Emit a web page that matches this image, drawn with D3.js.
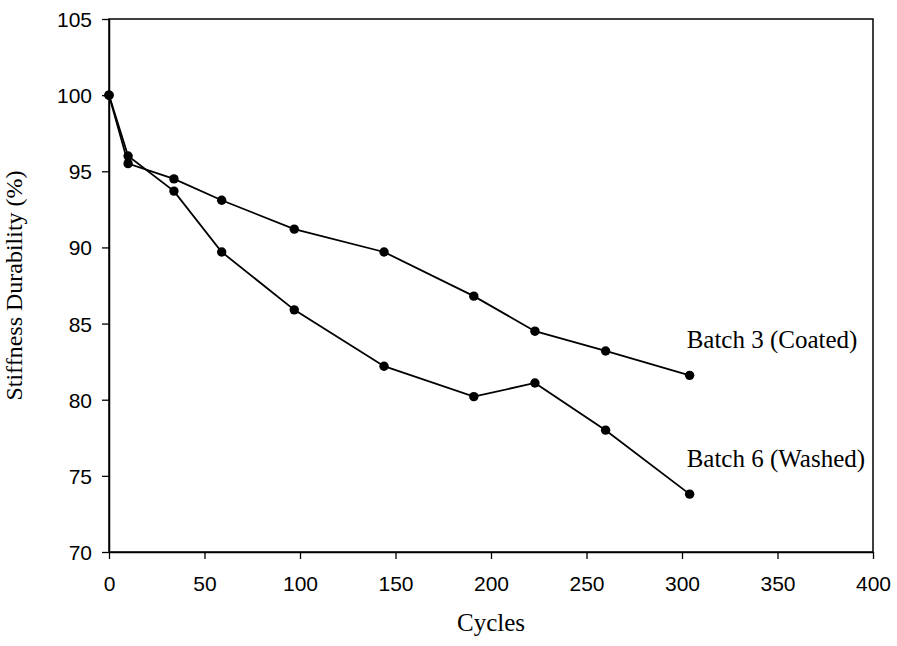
<!DOCTYPE html>
<html>
<head>
<meta charset="utf-8">
<script src="https://cdn.jsdelivr.net/npm/d3@7"></script>
<style>
  body { margin: 0; background: #fff; }
  svg { display: block; }
</style>
</head>
<body>
<svg id="chart" width="897" height="646"></svg>
<script>
// data
const cycles = [0, 10, 34, 59, 97, 144, 191, 223, 260, 304];
const coated = [100, 95.5, 94.5, 93.1, 91.2, 89.7, 86.8, 84.5, 83.2, 81.6];
const washed = [100, 96.0, 93.7, 89.7, 85.9, 82.2, 80.2, 81.1, 78.0, 73.8];
const seriesNames = ['Batch 3 (Coated)', 'Batch 6 (Washed)'];
const xTicks = [0, 50, 100, 150, 200, 250, 300, 350, 400];
const yTicks = [70, 75, 80, 85, 90, 95, 100, 105];

const plotLeft = 109, plotRight = 873, plotTop = 19, plotBottom = 552;

const svg = d3.select('#chart');

const x = d3.scaleLinear().domain([0, 400]).range([plotLeft, plotRight]);
const y = d3.scaleLinear().domain([70, 105]).range([plotBottom, plotTop]);

// frame
svg.append('rect')
  .attr('x', plotLeft)
  .attr('y', plotTop)
  .attr('width', plotRight - plotLeft)
  .attr('height', plotBottom - plotTop)
  .attr('fill', 'none')
  .attr('stroke', '#000')
  .attr('stroke-width', 1.5);

// x axis
const xAxis = svg.append('g')
  .attr('transform', `translate(0,${plotBottom})`)
  .call(d3.axisBottom(x).tickValues(xTicks).tickSize(7).tickSizeOuter(0).tickFormat(d3.format('d')));
xAxis.select('.domain').attr('stroke-width', 1.5);
xAxis.selectAll('.tick line').attr('stroke-width', 1.3);
xAxis.selectAll('.tick text')
  .attr('y', 39)
  .attr('dy', 0)
  .attr('font-family', 'Liberation Sans, Arial, sans-serif')
  .attr('font-size', 21)
  .attr('fill', '#000');

// y axis
const yAxis = svg.append('g')
  .attr('transform', `translate(${plotLeft},0)`)
  .call(d3.axisLeft(y).tickValues(yTicks).tickSize(7).tickSizeOuter(0));
yAxis.select('.domain').attr('stroke-width', 1.5);
yAxis.selectAll('.tick line').attr('stroke-width', 1.3);
yAxis.selectAll('.tick text')
  .attr('x', -17)
  .attr('dy', '0.36em')
  .attr('font-family', 'Liberation Sans, Arial, sans-serif')
  .attr('font-size', 21)
  .attr('fill', '#000');

// axis titles
svg.append('text')
  .attr('x', (plotLeft + plotRight) / 2)
  .attr('y', 631)
  .attr('text-anchor', 'middle')
  .attr('font-family', 'Liberation Serif, Times New Roman, serif')
  .attr('font-size', 25)
  .text('Cycles');

svg.append('text')
  .attr('transform', `translate(22,${(plotTop + plotBottom) / 2}) rotate(-90)`)
  .attr('text-anchor', 'middle')
  .attr('font-family', 'Liberation Serif, Times New Roman, serif')
  .attr('font-size', 24)
  .text('Stiffness Durability (%)');

// series
const line = d3.line()
  .x(d => x(d[0]))
  .y(d => y(d[1]));

[coated, washed].forEach((vals, i) => {
  const pts = cycles.map((c, j) => [c, vals[j]]);
  const g = svg.append('g').attr('class', `series-${i}`);
  g.append('path')
    .datum(pts)
    .attr('fill', 'none')
    .attr('stroke', '#000')
    .attr('stroke-width', 1.8)
    .attr('d', line);
  g.selectAll('circle')
    .data(pts)
    .enter()
    .append('circle')
    .attr('cx', d => x(d[0]))
    .attr('cy', d => y(d[1]))
    .attr('r', 4.7)
    .attr('fill', '#000');
  // label above the last point
  const last = pts[pts.length - 1];
  g.append('text')
    .attr('x', x(last[0]) - 3)
    .attr('y', y(last[1]) - 27)
    .attr('font-family', 'Liberation Serif, Times New Roman, serif')
    .attr('font-size', 25)
    .text(seriesNames[i]);
});
</script>
</body>
</html>
